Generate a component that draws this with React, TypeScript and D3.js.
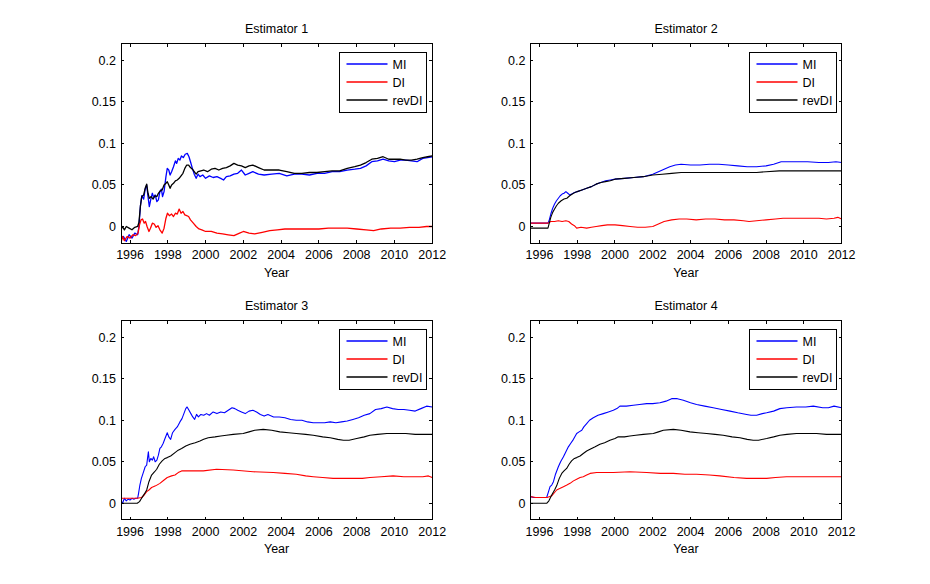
import React from "react";
import * as d3 from "d3";

type Pt = [number, number];

// year range shown on every x axis
const xDomain: [number, number] = [1995.52, 2012];
const yDomain: [number, number] = [-0.02, 0.22];
const xTicks = [1996, 1998, 2000, 2002, 2004, 2006, 2008, 2010, 2012];
const yTicks = [0, 0.05, 0.1, 0.15, 0.2];
const yTickLabels = ["0", "0.05", "0.1", "0.15", "0.2"];
const titles = ["Estimator 1", "Estimator 2", "Estimator 3", "Estimator 4"];
const seriesNames = ["MI", "DI", "revDI"];
const seriesColors = ["#0000ff", "#ff0000", "#000000"];

const est1MI: Pt[] = [[1995.52,-0.016],[1995.65,-0.012],[1995.8,-0.018],[1995.95,-0.01],[1996.1,-0.014],[1996.25,-0.008],[1996.4,-0.01],[1996.47,0.0],[1996.55,0.025],[1996.62,0.037],[1996.72,0.033],[1996.8,0.045],[1996.88,0.05],[1996.95,0.036],[1997.02,0.024],[1997.1,0.033],[1997.18,0.04],[1997.25,0.035],[1997.33,0.038],[1997.42,0.03],[1997.5,0.032],[1997.58,0.042],[1997.66,0.045],[1997.72,0.036],[1997.8,0.042],[1997.9,0.06],[1997.97,0.07],[1998.05,0.068],[1998.12,0.062],[1998.2,0.066],[1998.3,0.072],[1998.4,0.079],[1998.47,0.076],[1998.55,0.082],[1998.64,0.08],[1998.72,0.085],[1998.82,0.083],[1998.92,0.087],[1999.03,0.088],[1999.12,0.084],[1999.2,0.078],[1999.3,0.07],[1999.4,0.063],[1999.5,0.058],[1999.6,0.063],[1999.7,0.06],[1999.85,0.062],[2000.0,0.058],[2000.2,0.061],[2000.4,0.059],[2000.6,0.06],[2000.8,0.058],[2000.95,0.056],[2001.1,0.06],[2001.3,0.061],[2001.5,0.063],[2001.7,0.064],[2001.9,0.068],[2002.1,0.062],[2002.3,0.064],[2002.5,0.066],[2002.8,0.063],[2003.1,0.062],[2003.5,0.063],[2003.9,0.064],[2004.3,0.061],[2004.7,0.063],[2005.1,0.063],[2005.5,0.062],[2005.9,0.064],[2006.3,0.064],[2006.7,0.066],[2007.1,0.066],[2007.5,0.068],[2007.9,0.069],[2008.2,0.07],[2008.5,0.073],[2008.8,0.078],[2009.1,0.079],[2009.4,0.081],[2009.7,0.079],[2010.0,0.078],[2010.3,0.08],[2010.6,0.08],[2010.9,0.079],[2011.2,0.078],[2011.5,0.082],[2011.75,0.083],[2012.0,0.084]];
const est1DI: Pt[] = [[1995.52,-0.02],[1995.6,-0.012],[1995.7,-0.017],[1995.85,-0.012],[1996.0,-0.014],[1996.15,-0.01],[1996.3,-0.011],[1996.42,-0.008],[1996.5,0.002],[1996.58,0.008],[1996.66,0.009],[1996.75,0.004],[1996.82,0.006],[1996.9,0.0],[1997.0,-0.006],[1997.08,-0.002],[1997.18,0.004],[1997.28,0.003],[1997.38,-0.001],[1997.48,0.001],[1997.58,-0.004],[1997.7,-0.008],[1997.8,-0.002],[1997.9,0.01],[1997.98,0.016],[1998.08,0.013],[1998.2,0.015],[1998.3,0.012],[1998.4,0.016],[1998.5,0.015],[1998.6,0.021],[1998.7,0.016],[1998.8,0.018],[1998.9,0.014],[1999.0,0.013],[1999.1,0.012],[1999.2,0.008],[1999.35,0.004],[1999.5,0.0],[1999.65,-0.003],[1999.8,-0.004],[2000.0,-0.006],[2000.3,-0.006],[2000.6,-0.008],[2000.9,-0.009],[2001.2,-0.01],[2001.5,-0.011],[2001.8,-0.008],[2002.0,-0.006],[2002.3,-0.008],[2002.6,-0.009],[2003.0,-0.007],[2003.4,-0.005],[2003.8,-0.004],[2004.2,-0.003],[2004.6,-0.003],[2005.0,-0.003],[2005.5,-0.003],[2006.0,-0.003],[2006.5,-0.002],[2007.0,-0.002],[2007.5,-0.002],[2008.0,-0.003],[2008.5,-0.004],[2008.9,-0.005],[2009.3,-0.003],[2009.8,-0.002],[2010.3,-0.002],[2010.8,-0.001],[2011.3,-0.001],[2011.7,0.0],[2012.0,0.0]];
const est1RevDI: Pt[] = [[1995.52,-0.004],[1995.6,0.0],[1995.7,-0.004],[1995.8,0.0],[1995.95,-0.002],[1996.1,-0.004],[1996.25,-0.001],[1996.4,0.0],[1996.47,0.005],[1996.55,0.025],[1996.62,0.036],[1996.72,0.038],[1996.8,0.046],[1996.88,0.051],[1996.95,0.04],[1997.02,0.034],[1997.12,0.036],[1997.22,0.033],[1997.32,0.037],[1997.42,0.036],[1997.5,0.04],[1997.6,0.043],[1997.7,0.044],[1997.8,0.05],[1997.9,0.052],[1997.97,0.054],[1998.05,0.05],[1998.12,0.046],[1998.2,0.05],[1998.3,0.052],[1998.4,0.055],[1998.5,0.056],[1998.6,0.058],[1998.7,0.061],[1998.8,0.064],[1998.9,0.07],[1999.0,0.074],[1999.1,0.074],[1999.2,0.071],[1999.3,0.069],[1999.4,0.066],[1999.5,0.063],[1999.6,0.066],[1999.75,0.067],[1999.9,0.068],[2000.1,0.066],[2000.3,0.069],[2000.5,0.07],[2000.7,0.068],[2000.9,0.07],[2001.1,0.071],[2001.3,0.073],[2001.5,0.076],[2001.7,0.074],[2001.9,0.073],[2002.1,0.071],[2002.3,0.073],[2002.5,0.074],[2002.8,0.071],[2003.1,0.068],[2003.5,0.068],[2003.9,0.068],[2004.3,0.066],[2004.7,0.064],[2005.1,0.064],[2005.5,0.065],[2005.9,0.065],[2006.3,0.066],[2006.7,0.067],[2007.1,0.067],[2007.5,0.07],[2007.9,0.072],[2008.2,0.074],[2008.5,0.077],[2008.8,0.081],[2009.1,0.082],[2009.4,0.084],[2009.7,0.081],[2010.0,0.081],[2010.3,0.081],[2010.6,0.08],[2010.9,0.08],[2011.2,0.081],[2011.5,0.083],[2011.75,0.084],[2012.0,0.085]];

const est2MI: Pt[] = [[1995.52,0.004],[1996.45,0.004],[1996.52,0.008],[1996.6,0.015],[1996.7,0.022],[1996.8,0.027],[1996.9,0.031],[1997.0,0.034],[1997.1,0.037],[1997.2,0.039],[1997.3,0.04],[1997.4,0.042],[1997.5,0.04],[1997.6,0.038],[1997.7,0.039],[1997.85,0.041],[1998.0,0.042],[1998.25,0.044],[1998.5,0.046],[1998.75,0.048],[1999.0,0.051],[1999.25,0.053],[1999.5,0.055],[1999.75,0.056],[2000.0,0.057],[2000.5,0.058],[2001.0,0.059],[2001.5,0.06],[2002.0,0.063],[2002.3,0.066],[2002.6,0.069],[2002.9,0.072],[2003.2,0.074],[2003.5,0.075],[2004.0,0.074],[2004.5,0.074],[2005.0,0.075],[2005.5,0.075],[2006.0,0.074],[2006.5,0.073],[2007.0,0.072],[2007.5,0.072],[2008.0,0.073],[2008.4,0.075],[2008.8,0.078],[2009.5,0.078],[2010.2,0.078],[2010.8,0.077],[2011.3,0.077],[2011.7,0.078],[2012.0,0.077]];
const est2DI: Pt[] = [[1995.52,0.004],[1996.45,0.004],[1996.6,0.006],[1996.8,0.006],[1997.0,0.007],[1997.2,0.006],[1997.4,0.007],[1997.55,0.006],[1997.7,0.003],[1997.85,0.001],[1997.97,-0.002],[1998.2,-0.001],[1998.5,-0.002],[1998.75,-0.001],[1999.0,0.0],[1999.3,0.001],[1999.6,0.002],[2000.0,0.002],[2000.4,0.001],[2000.8,0.0],[2001.2,-0.001],[2001.6,-0.001],[2002.0,0.0],[2002.3,0.003],[2002.6,0.006],[2003.0,0.008],[2003.4,0.009],[2003.8,0.009],[2004.3,0.008],[2004.8,0.009],[2005.3,0.009],[2005.8,0.008],[2006.3,0.008],[2006.8,0.007],[2007.1,0.006],[2007.5,0.007],[2008.0,0.008],[2008.5,0.009],[2008.9,0.01],[2009.5,0.01],[2010.2,0.01],[2010.8,0.01],[2011.2,0.009],[2011.6,0.01],[2011.8,0.011],[2012.0,0.009]];
const est2RevDI: Pt[] = [[1995.52,-0.002],[1996.45,-0.002],[1996.52,0.004],[1996.6,0.011],[1996.7,0.017],[1996.8,0.021],[1996.9,0.025],[1997.0,0.028],[1997.15,0.031],[1997.3,0.033],[1997.45,0.034],[1997.6,0.037],[1997.8,0.04],[1998.0,0.042],[1998.25,0.044],[1998.5,0.046],[1998.75,0.048],[1999.0,0.051],[1999.25,0.053],[1999.5,0.054],[1999.75,0.055],[2000.0,0.057],[2000.5,0.058],[2001.0,0.059],[2001.5,0.06],[2002.0,0.062],[2002.5,0.063],[2003.0,0.064],[2003.5,0.065],[2004.5,0.065],[2005.5,0.065],[2006.5,0.065],[2007.5,0.065],[2008.0,0.066],[2008.7,0.067],[2009.5,0.067],[2010.5,0.067],[2011.5,0.067],[2012.0,0.067]];

const est3MI: Pt[] = [[1995.52,0.003],[1995.6,0.0],[1995.7,0.006],[1995.8,0.003],[1995.9,0.005],[1996.0,0.004],[1996.1,0.006],[1996.2,0.005],[1996.3,0.006],[1996.4,0.006],[1996.45,0.012],[1996.52,0.022],[1996.6,0.03],[1996.7,0.037],[1996.8,0.044],[1996.88,0.046],[1996.93,0.055],[1996.97,0.062],[1997.02,0.05],[1997.1,0.054],[1997.18,0.052],[1997.25,0.056],[1997.33,0.05],[1997.42,0.052],[1997.5,0.058],[1997.58,0.066],[1997.66,0.068],[1997.75,0.072],[1997.85,0.078],[1997.97,0.085],[1998.05,0.08],[1998.15,0.077],[1998.25,0.085],[1998.38,0.089],[1998.5,0.092],[1998.64,0.098],[1998.75,0.102],[1998.85,0.108],[1998.95,0.114],[1999.02,0.116],[1999.12,0.112],[1999.22,0.108],[1999.32,0.104],[1999.42,0.101],[1999.52,0.107],[1999.62,0.104],[1999.75,0.107],[1999.9,0.106],[2000.05,0.108],[2000.2,0.106],[2000.4,0.11],[2000.6,0.108],[2000.8,0.11],[2001.0,0.109],[2001.2,0.112],[2001.4,0.115],[2001.55,0.114],[2001.7,0.112],[2001.9,0.11],[2002.1,0.108],[2002.3,0.111],[2002.5,0.112],[2002.7,0.11],[2002.9,0.107],[2003.1,0.105],[2003.3,0.107],[2003.6,0.104],[2003.9,0.104],[2004.2,0.103],[2004.5,0.101],[2004.8,0.1],[2005.1,0.1],[2005.4,0.098],[2005.7,0.097],[2006.0,0.097],[2006.3,0.097],[2006.6,0.098],[2006.9,0.097],[2007.2,0.098],[2007.5,0.099],[2007.8,0.101],[2008.1,0.103],[2008.4,0.106],[2008.7,0.108],[2009.0,0.113],[2009.3,0.114],[2009.6,0.116],[2009.9,0.114],[2010.2,0.113],[2010.5,0.113],[2010.8,0.112],[2011.1,0.111],[2011.4,0.114],[2011.7,0.117],[2012.0,0.116]];
const est3DI: Pt[] = [[1995.52,0.006],[1996.38,0.006],[1996.61,0.007],[1996.75,0.01],[1996.88,0.014],[1997.0,0.016],[1997.14,0.019],[1997.35,0.021],[1997.58,0.024],[1997.8,0.028],[1997.97,0.031],[1998.2,0.033],[1998.38,0.034],[1998.55,0.037],[1998.73,0.039],[1999.17,0.039],[1999.88,0.039],[2000.58,0.041],[2001.46,0.04],[2002.52,0.038],[2003.58,0.037],[2004.2,0.036],[2004.8,0.035],[2005.3,0.033],[2005.7,0.032],[2006.2,0.031],[2006.75,0.03],[2007.3,0.03],[2007.82,0.03],[2008.3,0.03],[2008.7,0.031],[2009.3,0.032],[2009.93,0.033],[2010.5,0.032],[2010.99,0.032],[2011.5,0.032],[2011.8,0.033],[2012.0,0.031]];
const est3RevDI: Pt[] = [[1995.52,0],[1996.38,0],[1996.5,0.002],[1996.61,0.006],[1996.75,0.011],[1996.88,0.016],[1997.0,0.026],[1997.14,0.034],[1997.3,0.038],[1997.41,0.041],[1997.55,0.047],[1997.7,0.051],[1997.85,0.054],[1997.97,0.055],[1998.15,0.057],[1998.38,0.061],[1998.55,0.064],[1998.73,0.066],[1998.95,0.069],[1999.17,0.071],[1999.45,0.073],[1999.7,0.075],[1999.9,0.077],[2000.14,0.079],[2000.5,0.08],[2000.8,0.081],[2001.1,0.082],[2001.46,0.083],[2001.99,0.084],[2002.3,0.086],[2002.6,0.088],[2003.05,0.089],[2003.5,0.088],[2003.93,0.086],[2004.4,0.085],[2004.8,0.084],[2005.3,0.083],[2005.7,0.082],[2006.2,0.08],[2006.6,0.079],[2007.0,0.077],[2007.3,0.076],[2007.6,0.076],[2008.0,0.078],[2008.4,0.08],[2008.7,0.082],[2009.1,0.083],[2009.6,0.084],[2010.1,0.084],[2010.6,0.084],[2011.1,0.083],[2011.6,0.083],[2012.0,0.083]];

const est4MI: Pt[] = [[1995.52,0.008],[1995.7,0.007],[1996.38,0.007],[1996.48,0.014],[1996.56,0.02],[1996.65,0.022],[1996.74,0.026],[1996.85,0.035],[1997.0,0.044],[1997.12,0.05],[1997.27,0.056],[1997.4,0.062],[1997.53,0.068],[1997.65,0.072],[1997.8,0.077],[1997.97,0.084],[1998.1,0.086],[1998.24,0.088],[1998.35,0.092],[1998.5,0.096],[1998.65,0.1],[1998.85,0.103],[1999.1,0.106],[1999.38,0.108],[1999.65,0.11],[1999.91,0.112],[2000.1,0.114],[2000.26,0.117],[2000.6,0.117],[2000.97,0.118],[2001.3,0.119],[2001.68,0.12],[2002.0,0.12],[2002.38,0.121],[2002.7,0.123],[2003.0,0.126],[2003.3,0.126],[2003.62,0.124],[2004.0,0.121],[2004.32,0.119],[2004.75,0.117],[2005.2,0.115],[2005.65,0.113],[2006.09,0.111],[2006.5,0.109],[2006.97,0.107],[2007.2,0.106],[2007.5,0.106],[2007.8,0.108],[2008.03,0.109],[2008.4,0.111],[2008.73,0.114],[2009.1,0.115],[2009.61,0.116],[2010.1,0.116],[2010.5,0.117],[2011.0,0.115],[2011.3,0.115],[2011.6,0.117],[2012.0,0.115]];
const est4DI: Pt[] = [[1995.52,0.008],[1995.8,0.007],[1996.4,0.007],[1996.52,0.008],[1996.65,0.009],[1996.8,0.013],[1996.91,0.016],[1997.1,0.018],[1997.27,0.02],[1997.45,0.022],[1997.62,0.024],[1997.8,0.027],[1997.97,0.029],[1998.15,0.031],[1998.32,0.032],[1998.5,0.034],[1998.68,0.036],[1999.03,0.037],[1999.91,0.037],[2000.79,0.038],[2001.68,0.037],[2002.4,0.036],[2003.09,0.036],[2003.7,0.035],[2004.32,0.035],[2005.0,0.034],[2005.55,0.033],[2006.3,0.031],[2006.97,0.03],[2007.5,0.03],[2008.03,0.03],[2008.5,0.031],[2009.08,0.032],[2009.8,0.032],[2010.5,0.032],[2011.2,0.032],[2012.0,0.032]];
const est4RevDI: Pt[] = [[1995.52,0],[1996.38,0],[1996.5,0.003],[1996.65,0.01],[1996.8,0.016],[1996.91,0.021],[1997.05,0.03],[1997.18,0.036],[1997.3,0.039],[1997.44,0.042],[1997.57,0.047],[1997.7,0.051],[1997.85,0.054],[1997.97,0.055],[1998.15,0.057],[1998.32,0.06],[1998.5,0.063],[1998.68,0.065],[1998.95,0.068],[1999.2,0.071],[1999.45,0.073],[1999.73,0.076],[2000.0,0.078],[2000.17,0.08],[2000.5,0.08],[2000.79,0.081],[2001.1,0.082],[2001.5,0.083],[2002.03,0.084],[2002.3,0.086],[2002.56,0.088],[2003.09,0.089],[2003.5,0.088],[2003.97,0.086],[2004.4,0.085],[2004.85,0.084],[2005.3,0.083],[2005.73,0.082],[2006.2,0.08],[2006.62,0.079],[2007.0,0.077],[2007.32,0.076],[2007.6,0.076],[2008.03,0.078],[2008.4,0.08],[2008.73,0.082],[2009.1,0.083],[2009.61,0.084],[2010.1,0.084],[2010.67,0.084],[2011.2,0.083],[2011.6,0.083],[2012.0,0.083]];

const panelSeries: Pt[][][] = [
  [est1MI, est1DI, est1RevDI],
  [est2MI, est2DI, est2RevDI],
  [est3MI, est3DI, est3RevDI],
  [est4MI, est4DI, est4RevDI],
];

const W = 930;
const H = 584;
const FONT = "'Liberation Sans', Arial, Helvetica, sans-serif";
// MATLAB-like subplot boxes
const cols = [121, 530.4];
const rows = [43.8, 320.6];
const pw = 311.2;
const ph = 199.3;
const tick = 3;

function Panel({ idx }: { idx: number }) {
  const x0 = cols[idx % 2];
  const y0 = rows[Math.floor(idx / 2)];
  const x = d3.scaleLinear().domain(xDomain).range([x0, x0 + pw]);
  const y = d3.scaleLinear().domain(yDomain).range([y0 + ph, y0]);
  const line = d3
    .line<Pt>()
    .x((d) => x(d[0]))
    .y((d) => y(d[1]));
  const clipId = `clip${idx}`;
  const lgW = 87;
  const lgX = Math.round(x0 + pw - 6 - lgW) + 0.5;
  const lgY = Math.round(y0 + 8) + 0.5;

  return (
    <g>
      <defs>
        <clipPath id={clipId}>
          <rect x={x0} y={y0} width={pw} height={ph} />
        </clipPath>
      </defs>
      <rect x={x0} y={y0} width={pw} height={ph} fill="#fff" />
      <g clipPath={`url(#${clipId})`}>
        {panelSeries[idx].map((s, i) => (
          <path
            key={i}
            d={line(s) || ""}
            fill="none"
            stroke={seriesColors[i]}
            strokeWidth={idx === 0 ? 1.3 : 1.1}
            strokeLinejoin="round"
          />
        ))}
      </g>
      {/* ticks, inside on all four sides */}
      <g stroke="#000" strokeWidth={1} shapeRendering="crispEdges">
        {xTicks.map((t) => (
          <g key={"x" + t}>
            <line x1={x(t)} x2={x(t)} y1={y0 + ph} y2={y0 + ph - tick} />
            <line x1={x(t)} x2={x(t)} y1={y0} y2={y0 + tick} />
          </g>
        ))}
        {yTicks.map((t) => (
          <g key={"y" + t}>
            <line x1={x0} x2={x0 + tick} y1={y(t)} y2={y(t)} />
            <line x1={x0 + pw} x2={x0 + pw - tick} y1={y(t)} y2={y(t)} />
          </g>
        ))}
        <rect x={x0} y={y0} width={pw} height={ph} fill="none" />
      </g>
      <g fontFamily={FONT} fontSize={12.5} fill="#000">
        {xTicks.map((t) => (
          <text key={"xl" + t} x={x(t)} y={y0 + ph + 16} textAnchor="middle">
            {t}
          </text>
        ))}
        {yTicks.map((t, i) => (
          <text key={"yl" + t} x={x0 - 5} y={y(t) + 4.5} textAnchor="end">
            {yTickLabels[i]}
          </text>
        ))}
        <text x={x0 + pw / 2} y={y0 + ph + 33.5} textAnchor="middle">
          Year
        </text>
        <text x={x0 + pw / 2} y={y0 - 10.5} textAnchor="middle">
          {titles[idx]}
        </text>
      </g>
      {/* legend */}
      <g>
        <rect
          x={lgX}
          y={lgY}
          width={lgW}
          height={60}
          fill="#fff"
          stroke="#000"
          strokeWidth={1}
        />
        {seriesNames.map((n, i) => {
          const ly = Math.round(lgY + 11 + i * 18.3);
          return (
            <g key={n}>
              <line
                x1={lgX + 7}
                x2={lgX + 48}
                y1={ly}
                y2={ly}
                stroke={seriesColors[i]}
                strokeWidth={1.5}
              />
              <text
                x={lgX + 53}
                y={ly + 4.5}
                fontFamily={FONT}
                fontSize={12.5}
                fill="#000"
              >
                {n}
              </text>
            </g>
          );
        })}
      </g>
    </g>
  );
}

export default function App() {
  return (
    <svg
      width={W}
      height={H}
      viewBox={`0 0 ${W} ${H}`}
      style={{ position: "absolute", left: 0, top: 0, background: "#fff" }}
    >
      <rect width={W} height={H} fill="#fff" />
      {titles.map((_, i) => (
        <Panel key={i} idx={i} />
      ))}
    </svg>
  );
}
